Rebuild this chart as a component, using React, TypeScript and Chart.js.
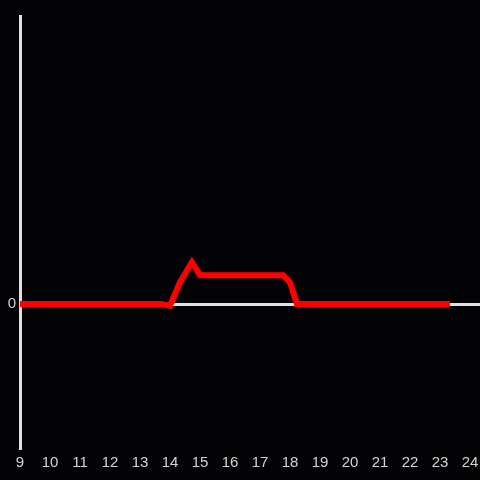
import React, { useEffect, useRef } from "react";
import { Chart, registerables } from "chart.js";

Chart.register(...registerables);

const hours: number[] = [9, 13.7, 14.0, 14.33, 14.73, 15.0, 17.77, 18.0, 18.23, 23.33];
const values: number[] = [0, 0, -0.6, 7.5, 14.5, 10, 10, 7.5, 0, 0];
const xTickLabels: number[] = [9, 10, 11, 12, 13, 14, 15, 16, 17, 18, 19, 20, 21, 22, 23, 24];
const yTickLabels: number[] = [0];

export default function App() {
  const ref = useRef<HTMLCanvasElement | null>(null);
  useEffect(() => {
    document.body.style.margin = "0";
    document.body.style.background = "#030205";
    if (!ref.current) return;
    const chart = new Chart(ref.current, {
      type: "line",
      data: {
        datasets: [
          {
            data: hours.map((h, i) => ({ x: h, y: values[i] })),
            borderColor: "#ff0000",
            borderWidth: 6,
            pointRadius: 0,
            tension: 0,
            fill: false,
          },
        ],
      },
      options: {
        animation: false,
        responsive: false,
        maintainAspectRatio: false,
        layout: { padding: { top: 16, left: 0, right: 0, bottom: 0 } },
        plugins: { legend: { display: false }, tooltip: { enabled: false } },
        scales: {
          x: {
            type: "linear",
            min: 9,
            max: 24.333,
            grid: { display: false },
            border: { display: false },
            afterBuildTicks: (s: any) => {
              s.ticks = xTickLabels.map((v) => ({ value: v }));
            },
            afterFit: (s: any) => {
              s.height = 32;
              s.paddingLeft = 0;
              s.paddingRight = 0;
            },
            ticks: {
              color: "#d4d4d4",
              font: { family: "Liberation Sans", size: 15 },
              padding: -2,
              maxRotation: 0,
              autoSkip: false,
            },
          },
          y: {
            min: -50,
            max: 100,
            afterBuildTicks: (s: any) => {
              s.ticks = yTickLabels.map((v) => ({ value: v }));
            },
            afterFit: (s: any) => {
              s.width = 20;
              s.paddingTop = 0;
              s.paddingBottom = 0;
            },
            grid: { color: "#e0e0e0", lineWidth: 3, drawTicks: false },
            border: { display: true, color: "#e0e0e0", width: 3 },
            ticks: {
              color: "#d4d4d4",
              font: { family: "Liberation Sans", size: 15 },
              padding: 4,
            },
          },
        },
      },
    });
    return () => chart.destroy();
  }, []);
  return <canvas ref={ref} width={480} height={480} style={{ display: "block" }} />;
}
